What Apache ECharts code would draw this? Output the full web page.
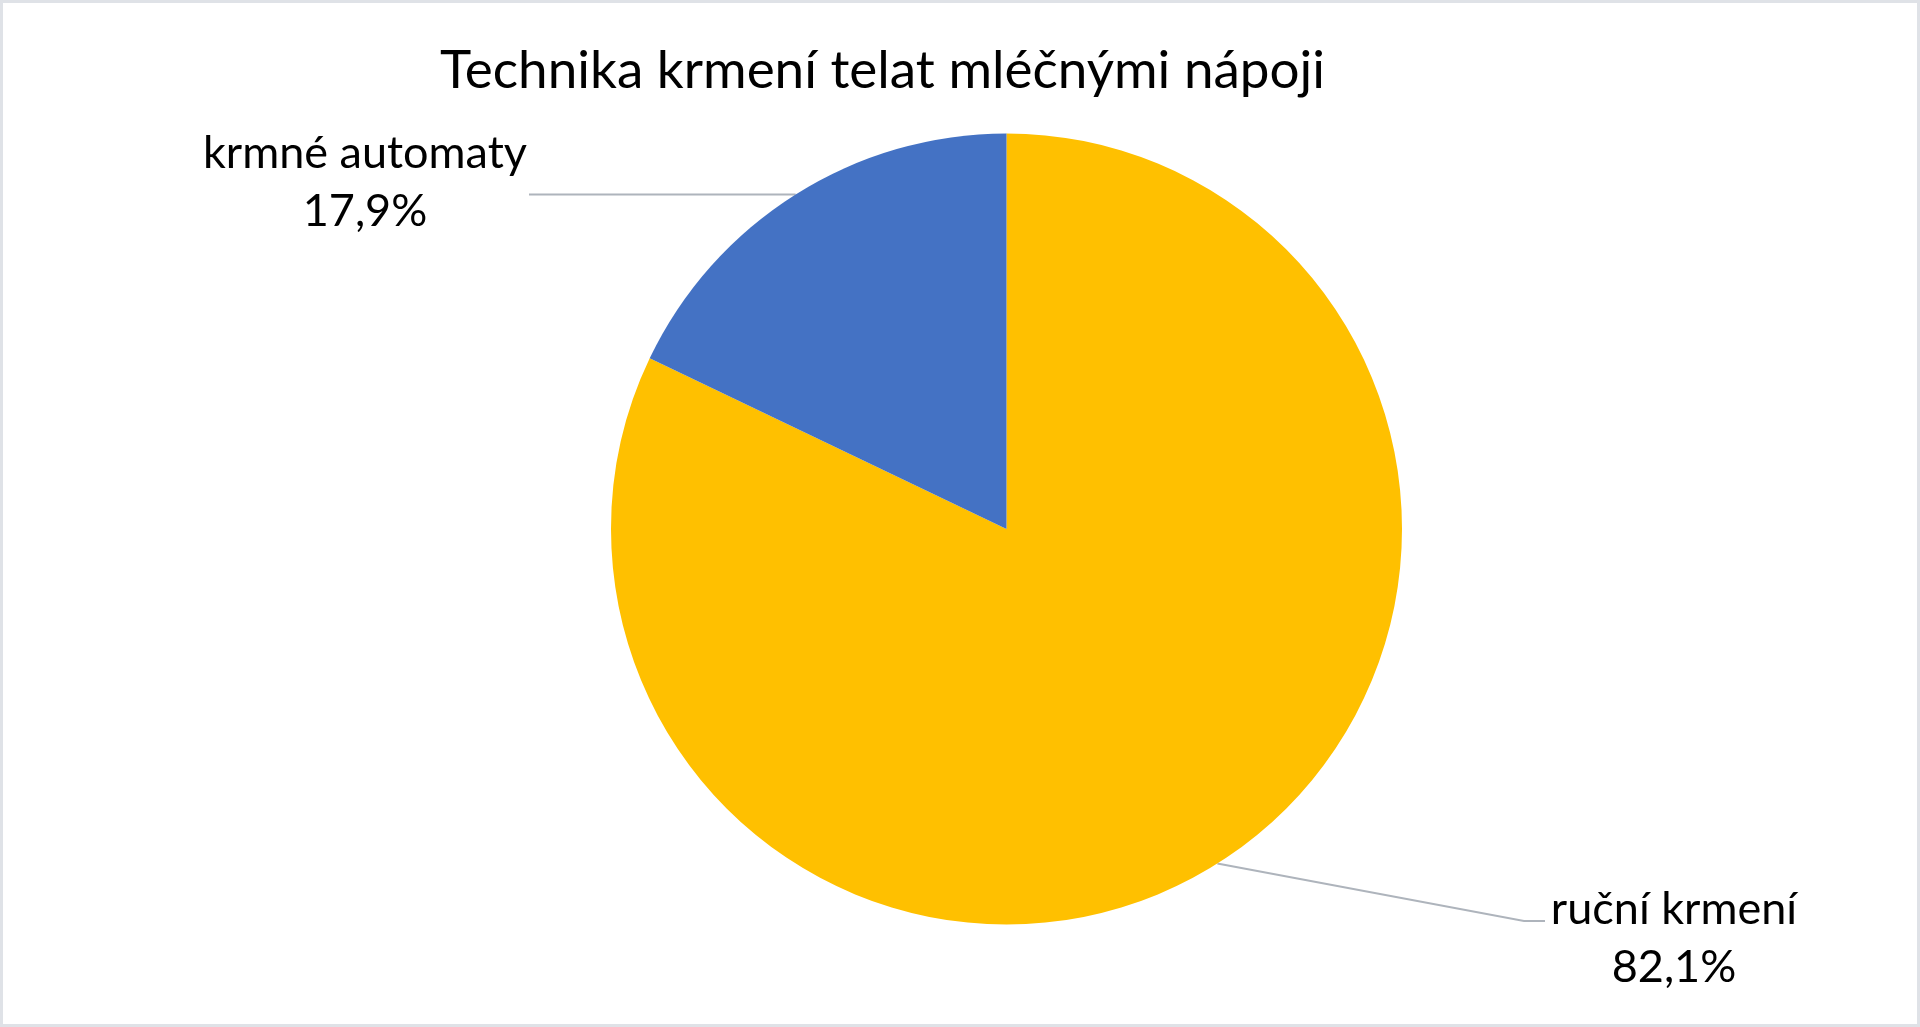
<!DOCTYPE html>
<html>
<head>
<meta charset="utf-8">
<script src="https://cdn.jsdelivr.net/npm/echarts@6/dist/echarts.min.js"></script>
<style>
html,body{margin:0;padding:0;background:#fff;}
#c{width:1920px;height:1027px;}
</style>
</head>
<body>
<div id="c"></div>
<script>
const titleText = 'Technika krmení telat mléčnými nápoji';
const categories = ['ruční krmení', 'krmné automaty'];
const values = [82.1, 17.9];
const colors = ['#FFC000', '#4472C4'];

const FONT = 'Lato';
const chart = echarts.init(document.getElementById('c'));

const data = categories.map((c, i) => ({ name: c, value: values[i], itemStyle: { color: colors[i] } }));

chart.setOption({
  backgroundColor: '#ffffff',
  animation: false,
  title: {
    text: titleText,
    left: 435,
    top: 39,
    textStyle: { fontFamily: FONT, fontSize: 53, fontWeight: 'normal', color: '#000' }
  },
  graphic: [{
    type: 'rect',
    shape: { x: 1.5, y: 1.5, width: 1917, height: 1024 },
    style: { fill: 'none', stroke: '#dfe2e7', lineWidth: 3 },
    silent: true
  }],
  series: [{
    type: 'pie',
    center: [1006.5, 529],
    radius: 395.5,
    startAngle: 90,
    clockwise: true,
    data: data,
    label: {
      show: true,
      fontFamily: FONT,
      fontSize: 45,
      color: '#000',
      lineHeight: 58,
      align: 'center',
      formatter: p => p.name + '\n' + p.value.toFixed(1).replace('.', ',') + '%'
    },
    labelLine: {
      show: true,
      length: 20,
      length2: 20,
      smooth: false,
      lineStyle: { color: '#aeb4bc', width: 2 }
    },
    labelLayout: function (p) {
      const p0 = p.labelLinePoints ? p.labelLinePoints[0] : null;
      if (p.dataIndex === 1) {
        const out = { x: 365, y: 182, align: 'center', verticalAlign: 'middle' };
        if (p0) out.labelLinePoints = [p0, [529, p0[1]], [529, p0[1]]];
        return out;
      } else {
        const out = { x: 1674, y: 938, align: 'center', verticalAlign: 'middle' };
        if (p0) out.labelLinePoints = [p0, [1524, 921], [1545, 921]];
        return out;
      }
    }
  }]
});
</script>
</body>
</html>
